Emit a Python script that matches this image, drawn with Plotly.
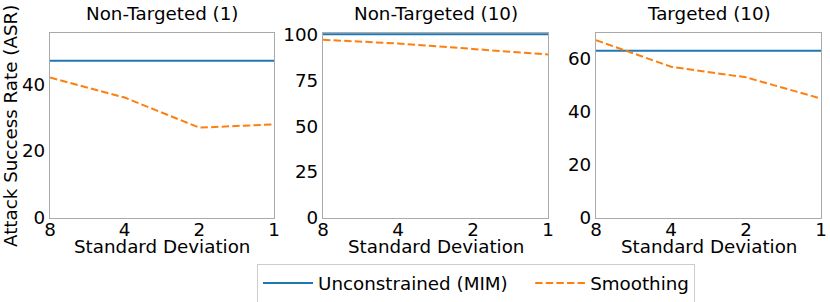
import plotly.graph_objects as go

W, H = 830, 302

std_labels = ["8", "4", "2", "1"]
titles = ["Non-Targeted (1)", "Non-Targeted (10)", "Targeted (10)"]
series_names = ["Unconstrained (MIM)", "Smoothing"]
unconstrained = [
    [47, 47, 47, 47],
    [100, 100, 100, 100],
    [63, 63, 63, 63],
]
smoothing = [
    [42, 36, 27, 28],
    [97, 95, 92, 89],
    [67, 57, 53, 45],
]
y_ranges = [[0, 55.3], [0, 100.7], [0, 69.7]]
y_ticks = [[0, 20, 40], [0, 25, 50, 75, 100], [0, 20, 40, 60]]

# panel pixel boxes (left, right), shared top/bottom
px_x = [(50, 274), (323, 548), (596, 821)]
top_px, bot_px = 33, 218

BLUE = "#1f77b4"
ORANGE = "#ff7f0e"
FONT = "DejaVu Sans"
FS = 18.3

fig = go.Figure()
annotations = []
for i in range(3):
    ax = "" if i == 0 else str(i + 1)
    fig.add_trace(go.Scatter(
        x=std_labels, y=unconstrained[i], mode="lines",
        line=dict(color=BLUE, width=2),
        name=series_names[0] + "&nbsp;&nbsp;&nbsp;", showlegend=(i == 0),
        xaxis="x" + ax, yaxis="y" + ax, cliponaxis=False,
    ))
    fig.add_trace(go.Scatter(
        x=std_labels, y=smoothing[i], mode="lines",
        line=dict(color=ORANGE, width=2, dash="7.4px,3.2px"),
        name=series_names[1], showlegend=(i == 0),
        xaxis="x" + ax, yaxis="y" + ax, cliponaxis=False,
    ))
    l, r = px_x[i]
    dom_x = [l / W, r / W]
    dom_y = [1 - bot_px / H, 1 - top_px / H]
    axis_common = dict(
        showline=True, linecolor="#aaaaaa", linewidth=1.3, mirror=True,
        showgrid=False, zeroline=False, automargin=False,
        tickfont=dict(family=FONT, size=FS, color="black"),
        ticks="", layer="below traces",
    )
    fig.layout["xaxis" + ax] = dict(
        domain=dom_x, anchor="y" + ax, type="category",
        categoryorder="array", categoryarray=std_labels,
        range=[0, 3], ticklabelstandoff=-5, **axis_common,
    )
    fig.layout["yaxis" + ax] = dict(
        domain=dom_y, anchor="x" + ax, range=y_ranges[i],
        tickvals=y_ticks[i], **axis_common,
    )
    cx = (l + r) / 2 / W
    annotations.append(dict(
        text=titles[i], x=cx, y=1 - 13 / H, xref="paper", yref="paper",
        showarrow=False, xanchor="center", yanchor="middle",
        font=dict(family=FONT, size=FS, color="black"),
    ))
    annotations.append(dict(
        text="Standard Deviation", x=cx, y=1 - 246 / H, xref="paper", yref="paper",
        showarrow=False, xanchor="center", yanchor="middle",
        font=dict(family=FONT, size=FS, color="black"),
    ))

annotations.append(dict(
    text="Attack Success Rate (ASR)", x=10 / W, y=1 - 126 / H,
    xref="paper", yref="paper", showarrow=False, textangle=-90,
    xanchor="center", yanchor="middle",
    font=dict(family=FONT, size=FS, color="black"),
))

fig.update_layout(
    width=W, height=H,
    margin=dict(l=0, r=0, t=0, b=0, autoexpand=False),
    paper_bgcolor="white", plot_bgcolor="white",
    annotations=annotations,
    showlegend=True,
    legend=dict(
        orientation="h", x=476 / W, y=1 - 283 / H,
        xanchor="center", yanchor="middle",
        bordercolor="#cccccc", borderwidth=1, bgcolor="white",
        font=dict(family=FONT, size=FS, color="black"),
        itemwidth=50,
    ),
)

fig.write_html("out.html", config={"displayModeBar": False},
               post_script="document.body.style.margin='0';")
